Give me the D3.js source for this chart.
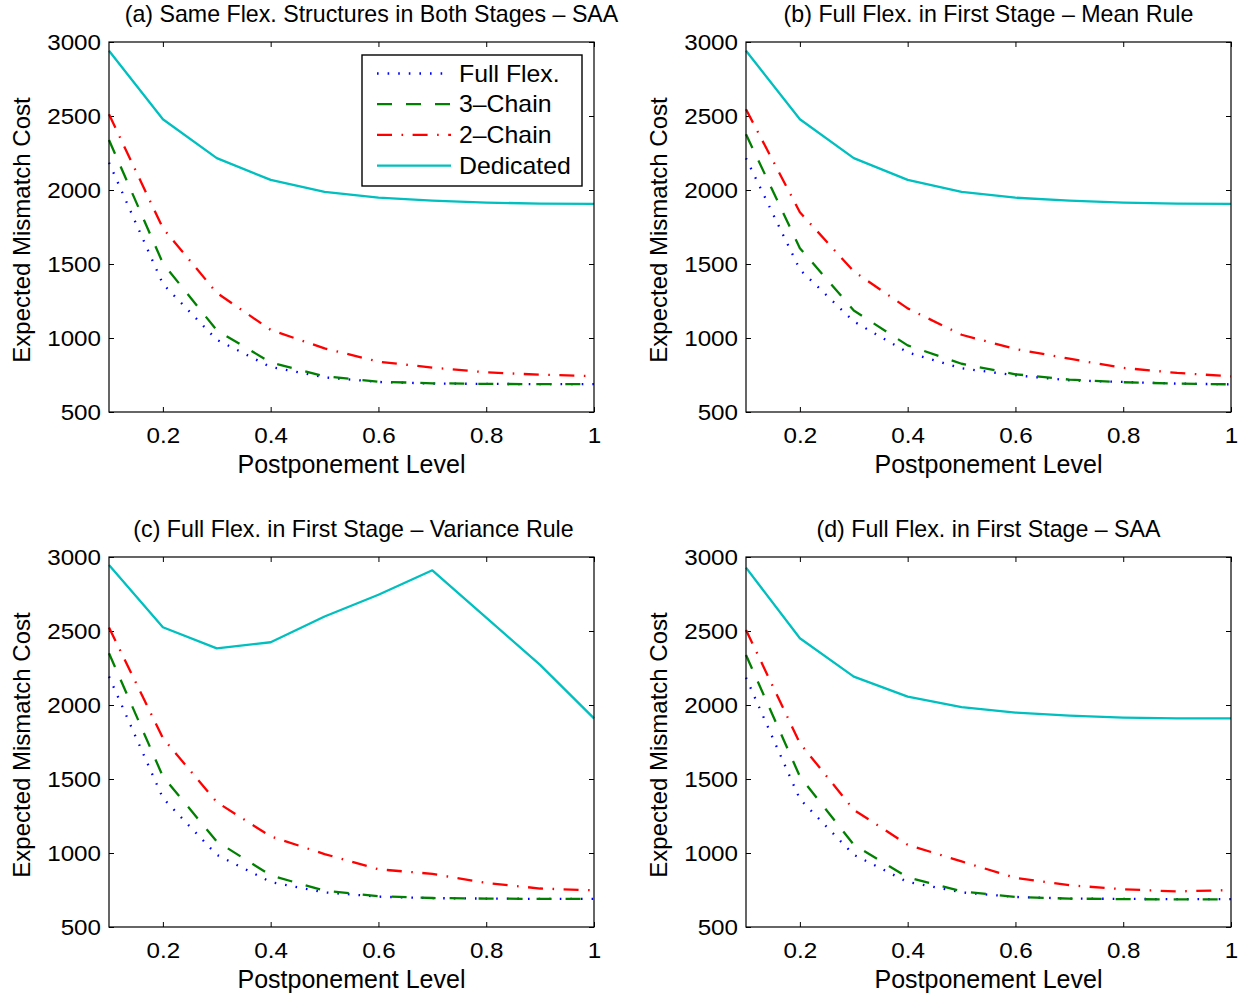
<!DOCTYPE html>
<html><head><meta charset="utf-8">
<script src="https://cdn.jsdelivr.net/npm/d3@7"></script>
<style>
body{margin:0;background:#fff}
svg{display:block;background:#fff}
text{font-family:"Liberation Sans",Arial,Helvetica,sans-serif;fill:#000}
</style>
</head><body>
<svg id="chart" width="1250" height="996"></svg>
<script>
// ---------------- DATA ----------------
const postponement = [0.1, 0.2, 0.3, 0.4, 0.5, 0.6, 0.7, 0.8, 0.9, 1.0];
const xTicks = [0.2, 0.4, 0.6, 0.8, 1];
const xTickLabels = ["0.2", "0.4", "0.6", "0.8", "1"];
const yTicks = [500, 1000, 1500, 2000, 2500, 3000];
const seriesNames = ["Full Flex.", "3\u2013Chain", "2\u2013Chain", "Dedicated"];
const panelTitles = [
  "(a) Same Flex. Structures in Both Stages \u2013 SAA",
  "(b) Full Flex. in First Stage \u2013 Mean Rule",
  "(c) Full Flex. in First Stage \u2013 Variance Rule",
  "(d) Full Flex. in First Stage \u2013 SAA"
];
const xLabel = "Postponement Level";
const yLabel = "Expected Mismatch Cost";

// (a) Same flex structures in both stages - SAA
const fullFlexA  = [2185, 1365, 988, 804, 734, 703, 692, 690, 688, 688];
const chain3A    = [2338, 1505, 1052, 835, 741, 705, 694, 690, 688, 688];
const chain2A    = [2512, 1742, 1305, 1055, 930, 840, 800, 768, 752, 743];
const dedicatedA = [2941, 2478, 2215, 2068, 1988, 1948, 1928, 1915, 1908, 1906];

// (b) Full flex in first stage - mean rule
const fullFlexB  = [2215, 1462, 1112, 903, 795, 748, 714, 703, 692, 687];
const chain3B    = [2376, 1607, 1186, 950, 826, 755, 719, 701, 692, 687];
const chain2B    = [2545, 1850, 1450, 1200, 1022, 926, 860, 798, 764, 741];
const dedicatedB = [2941, 2478, 2215, 2068, 1988, 1948, 1928, 1915, 1908, 1906];

// (c) Full flex in first stage - variance rule
const fullFlexC  = [2192, 1371, 988, 804, 734, 705, 695, 692, 690, 690];
const chain3C    = [2350, 1517, 1078, 849, 745, 708, 696, 692, 690, 690];
const chain2C    = [2523, 1776, 1344, 1112, 993, 890, 859, 798, 760, 748];
const dedicatedC = [2946, 2525, 2383, 2424, 2598, 2745, 2910, 2591, 2271, 1910];

// (d) Full flex in first stage - SAA
const fullFlexD  = [2185, 1364, 988, 804, 734, 703, 692, 690, 688, 688];
const chain3D    = [2338, 1517, 1056, 835, 741, 703, 692, 688, 687, 687];
const chain2D    = [2507, 1742, 1292, 1056, 943, 832, 782, 755, 740, 750];
const dedicatedD = [2928, 2451, 2192, 2057, 1985, 1949, 1928, 1915, 1910, 1910];

const panelSeries = [
  [fullFlexA, chain3A, chain2A, dedicatedA],
  [fullFlexB, chain3B, chain2B, dedicatedB],
  [fullFlexC, chain3C, chain2C, dedicatedC],
  [fullFlexD, chain3D, chain2D, dedicatedD]
];

// ---------------- STYLE / LAYOUT ----------------
const seriesColors = ["#0000ff", "#008000", "#ff0000", "#00bfbf"];
const seriesDash = ["1.6,9", "15,14", "15,9.5,1.6,9.5", null];
const layout = [
  {x0: 109, x1: 594, y0: 42, y1: 412, titleShift: 20},
  {x0: 746, x1: 1231, y0: 42, y1: 412, titleShift: 0},
  {x0: 109, x1: 594, y0: 557, y1: 927, titleShift: 2},
  {x0: 746, x1: 1231, y0: 557, y1: 927, titleShift: 0}
];
const tickFont = 22, tickStretch = 1.1;
const xLabelFont = 25, yLabelFont = 24;
const titleFont = 23.2;
const legendFont = 23, legendStretch = 1.08;

// horizontally widen text glyphs around their anchor point
function stretch(sel, s) {
  sel.each(function () {
    const t = d3.select(this);
    const ax = +t.attr("x") || 0, ay = +t.attr("y") || 0;
    t.attr("transform", `translate(${ax},${ay}) scale(${s},1) translate(${-ax},${-ay})`);
  });
}

const svg = d3.select("#chart");
svg.append("rect").attr("width", 1250).attr("height", 996).attr("fill", "#fff");

panelSeries.forEach((series, pi) => {
  const L = layout[pi];
  const x = d3.scaleLinear().domain([0.1, 1]).range([L.x0, L.x1]);
  const y = d3.scaleLinear().domain([500, 3000]).range([L.y1, L.y0]);
  const g = svg.append("g");

  // axes (ticks inward, box on)
  const axB = d3.axisBottom(x).tickValues(xTicks).tickFormat((d, i) => xTickLabels[i])
    .tickSizeInner(-5).tickSizeOuter(0).tickPadding(15.2);
  const axT = d3.axisTop(x).tickValues(xTicks).tickFormat("").tickSizeInner(-5).tickSizeOuter(0);
  const axL = d3.axisLeft(y).tickValues(yTicks).tickFormat(d3.format("d"))
    .tickSizeInner(-5).tickSizeOuter(0).tickPadding(8);
  const axR = d3.axisRight(y).tickValues(yTicks).tickFormat("").tickSizeInner(-5).tickSizeOuter(0);

  const gB = g.append("g").attr("transform", `translate(0,${L.y1})`).call(axB);
  const gT = g.append("g").attr("transform", `translate(0,${L.y0})`).call(axT);
  const gL = g.append("g").attr("transform", `translate(${L.x0},0)`).call(axL);
  const gR = g.append("g").attr("transform", `translate(${L.x1},0)`).call(axR);
  [gB, gT, gL, gR].forEach(a => {
    a.select(".domain").remove();
    a.selectAll("line").attr("stroke", "#000").attr("stroke-width", 1);
    a.selectAll("text").attr("font-size", tickFont)
      .attr("font-family", '"Liberation Sans",Arial,Helvetica,sans-serif').attr("fill", "#000");
  });
  stretch(gB.selectAll("text"), tickStretch);
  stretch(gL.selectAll("text"), tickStretch);

  // series lines
  const line = d3.line().x((d, i) => x(postponement[i])).y(d => y(d));
  series.forEach((vals, si) => {
    const p = g.append("path").datum(vals)
      .attr("d", line)
      .attr("fill", "none")
      .attr("stroke", seriesColors[si])
      .attr("stroke-width", 2.3)
      .attr("stroke-linejoin", "round");
    if (seriesDash[si]) p.attr("stroke-dasharray", seriesDash[si]);
  });

  // box
  g.append("rect")
    .attr("x", L.x0).attr("y", L.y0)
    .attr("width", L.x1 - L.x0).attr("height", L.y1 - L.y0)
    .attr("fill", "none").attr("stroke", "#000").attr("stroke-width", 1.2);

  // title
  g.append("text")
    .attr("x", (L.x0 + L.x1) / 2 + L.titleShift)
    .attr("y", L.y0 - 20)
    .attr("text-anchor", "middle")
    .attr("font-size", titleFont)
    .text(panelTitles[pi]);

  // x label
  g.append("text")
    .attr("x", (L.x0 + L.x1) / 2)
    .attr("y", L.y1 + 61)
    .attr("text-anchor", "middle")
    .attr("font-size", xLabelFont)
    .text(xLabel);

  // y label
  g.append("text")
    .attr("transform", `translate(${L.x0 - 79},${(L.y0 + L.y1) / 2 + 3}) rotate(-90)`)
    .attr("text-anchor", "middle")
    .attr("font-size", yLabelFont)
    .text(yLabel);

  // legend in first panel only
  if (pi === 0) {
    const lg = g.append("g");
    const bx = 362, by = 55, bw = 220, bh = 131;
    lg.append("rect").attr("x", bx).attr("y", by).attr("width", bw).attr("height", bh)
      .attr("fill", "#fff").attr("stroke", "#000").attr("stroke-width", 1.4);
    seriesNames.forEach((name, si) => {
      const ry = by + 18.5 + si * 30.7;
      const l = lg.append("line").attr("x1", bx + 15).attr("x2", bx + 89)
        .attr("y1", ry).attr("y2", ry)
        .attr("stroke", seriesColors[si]).attr("stroke-width", 2.3);
      if (seriesDash[si]) l.attr("stroke-dasharray", seriesDash[si]);
      const tx = lg.append("text").attr("x", bx + 97).attr("y", ry).attr("dy", "0.35em")
        .attr("font-size", legendFont).text(name);
      stretch(tx, legendStretch);
    });
  }
});
</script>
</body></html>
